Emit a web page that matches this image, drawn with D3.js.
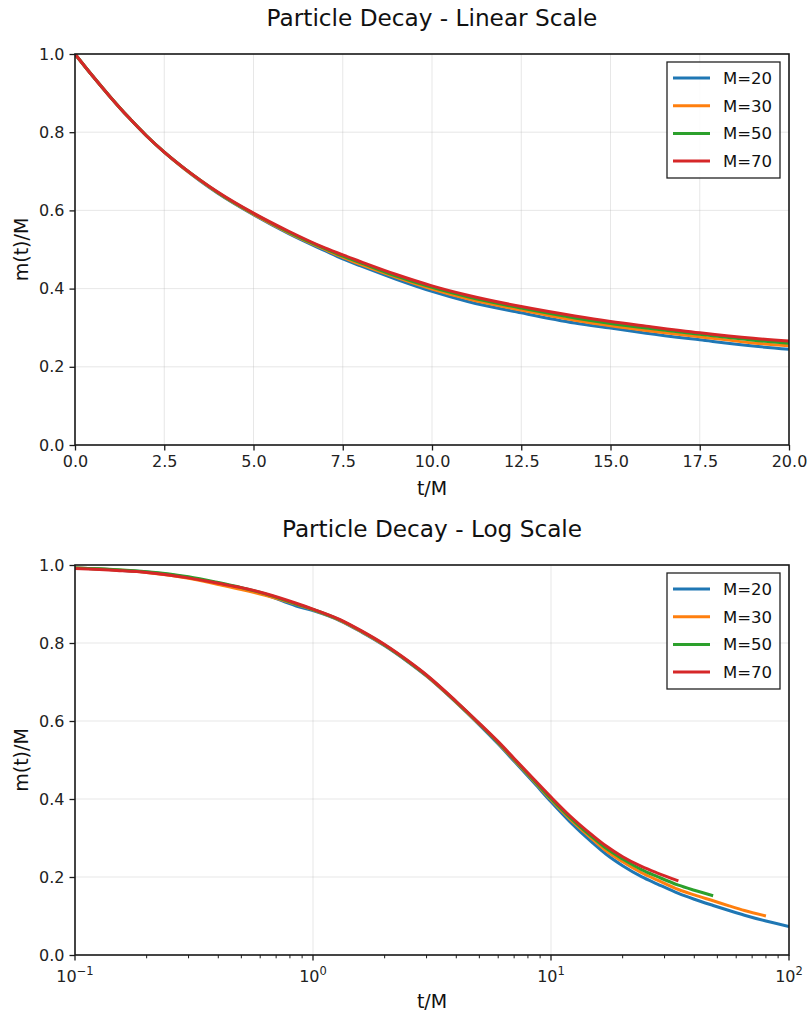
<!DOCTYPE html>
<html>
<head>
<meta charset="utf-8">
<script src="https://cdn.jsdelivr.net/npm/d3@7"></script>
<style>
  html, body { margin: 0; padding: 0; background: #fff; }
  svg { display: block; font-family: "DejaVu Sans", sans-serif; }
</style>
</head>
<body>
<svg id="chart" width="808" height="1012"></svg>
<script>
// ---------------- DATA ----------------
const seriesNames = ["M=20", "M=30", "M=50", "M=70"];
const seriesColors = ["#1f77b4", "#ff7f0e", "#2ca02c", "#d62728"];

// Linear-scale panel
const linT = [0, 0.5, 1, 1.5, 2, 2.5, 3, 3.5, 4, 5, 6, 7, 7.5, 8, 9, 10, 11, 12.5, 14, 15, 16, 17.5, 19, 20];
const linM20 = [1.000, 0.943, 0.889, 0.838, 0.791, 0.749, 0.711, 0.676, 0.644, 0.589, 0.540, 0.497, 0.476, 0.458, 0.424, 0.393, 0.367, 0.338, 0.312, 0.299, 0.286, 0.269, 0.253, 0.245];
const linM30 = [1.000, 0.943, 0.889, 0.838, 0.791, 0.749, 0.711, 0.677, 0.645, 0.590, 0.542, 0.500, 0.480, 0.462, 0.429, 0.399, 0.374, 0.345, 0.319, 0.305, 0.293, 0.277, 0.261, 0.254];
const linM50 = [1.000, 0.943, 0.889, 0.838, 0.791, 0.749, 0.712, 0.678, 0.646, 0.592, 0.544, 0.502, 0.483, 0.466, 0.432, 0.403, 0.379, 0.350, 0.325, 0.311, 0.299, 0.283, 0.268, 0.260];
const linM70 = [1.000, 0.943, 0.889, 0.838, 0.791, 0.749, 0.712, 0.678, 0.647, 0.593, 0.546, 0.504, 0.486, 0.469, 0.436, 0.407, 0.383, 0.354, 0.330, 0.316, 0.304, 0.287, 0.273, 0.266];

// Log-scale panel (each series uses the leading part of logT)
const logT = [0.1, 0.15, 0.2, 0.3, 0.4, 0.5, 0.63, 0.85, 1, 1.3, 1.6, 2, 2.5, 3, 4, 5, 6, 7, 8.5, 10, 12, 15, 17, 20, 24, 28, 34.3, 40, 48, 56, 65, 80, 100];
const logM20 = [0.992, 0.987, 0.982, 0.968, 0.953, 0.941, 0.924, 0.895, 0.883, 0.857, 0.828, 0.793, 0.752, 0.715, 0.647, 0.590, 0.541, 0.497, 0.441, 0.393, 0.342, 0.287, 0.259, 0.229, 0.201, 0.182, 0.158, 0.143, 0.127, 0.114, 0.102, 0.087, 0.073];
const logM30 = [0.992, 0.987, 0.981, 0.966, 0.950, 0.937, 0.922, 0.899, 0.885, 0.858, 0.829, 0.794, 0.753, 0.716, 0.648, 0.592, 0.544, 0.500, 0.445, 0.398, 0.349, 0.296, 0.268, 0.239, 0.211, 0.192, 0.168, 0.154, 0.139, 0.126, 0.114, 0.100];
const logM50 = [0.992, 0.988, 0.983, 0.970, 0.955, 0.942, 0.926, 0.900, 0.886, 0.859, 0.830, 0.795, 0.754, 0.717, 0.649, 0.593, 0.545, 0.502, 0.447, 0.401, 0.353, 0.301, 0.274, 0.246, 0.219, 0.201, 0.179, 0.166, 0.152];
const logM70 = [0.991, 0.986, 0.981, 0.967, 0.953, 0.942, 0.927, 0.902, 0.887, 0.860, 0.831, 0.796, 0.755, 0.718, 0.650, 0.594, 0.547, 0.504, 0.450, 0.405, 0.357, 0.306, 0.280, 0.252, 0.227, 0.210, 0.190];

const linXTicks = [0, 2.5, 5, 7.5, 10, 12.5, 15, 17.5, 20];
const yTicks = [0, 0.2, 0.4, 0.6, 0.8, 1.0];
const logMajorTicks = [0.1, 1, 10, 100];
const logTickExp = ["\u22121", "0", "1", "2"];

const titles = ["Particle Decay - Linear Scale", "Particle Decay - Log Scale"];
const xLabel = "t/M";
const yLabel = "m(t)/M";

// ---------------- DRAW ----------------
const svg = d3.select("#chart");
const L = 75, R = 789;
const panels = [
  { top: 54, bottom: 445, type: "lin" },
  { top: 565, bottom: 955, type: "log" }
];
const linSeries = [linM20, linM30, linM50, linM70];
const logSeries = [logM20, logM30, logM50, logM70];
const spine = "#1a1a1a";

panels.forEach((p, pi) => {
  const g = svg.append("g");
  const y = d3.scaleLinear().domain([0, 1]).range([p.bottom, p.top]);
  let x;
  if (p.type === "lin") x = d3.scaleLinear().domain([0, 20]).range([L, R]);
  else x = d3.scaleLog().domain([0.1, 100]).range([L, R]);

  // clip
  const clipId = "clip" + pi;
  svg.append("clipPath").attr("id", clipId).append("rect")
    .attr("x", L).attr("y", p.top).attr("width", R - L).attr("height", p.bottom - p.top);

  // grid
  const gridX = p.type === "lin" ? linXTicks : logMajorTicks;
  g.selectAll(".gx").data(gridX).enter().append("line")
    .attr("x1", d => x(d)).attr("x2", d => x(d))
    .attr("y1", p.top).attr("y2", p.bottom)
    .attr("stroke", "#b0b0b0").attr("stroke-opacity", 0.3).attr("stroke-width", 1);
  g.selectAll(".gy").data(yTicks).enter().append("line")
    .attr("x1", L).attr("x2", R)
    .attr("y1", d => y(d)).attr("y2", d => y(d))
    .attr("stroke", "#b0b0b0").attr("stroke-opacity", 0.3).attr("stroke-width", 1);

  // lines
  const line = d3.line().x(d => x(d[0])).y(d => y(d[1])).curve(d3.curveMonotoneX);
  const lg = g.append("g").attr("clip-path", `url(#${clipId})`);
  const vals = p.type === "lin" ? linSeries : logSeries;
  const ts = p.type === "lin" ? linT : logT;
  vals.forEach((arr, i) => {
    const pts = arr.map((v, k) => [ts[k], v]);
    lg.append("path").datum(pts).attr("d", line)
      .attr("fill", "none").attr("stroke", seriesColors[i])
      .attr("stroke-width", 3).attr("stroke-linejoin", "round").attr("stroke-linecap", "butt");
  });

  // y axis
  const yAxis = d3.axisLeft(y).tickValues(yTicks).tickFormat(d3.format(".1f")).tickSizeOuter(0).tickSize(5.5).tickPadding(5);
  const ya = g.append("g").attr("transform", `translate(${L},0)`).call(yAxis);
  ya.select(".domain").remove();
  ya.selectAll("line").attr("stroke", spine).attr("stroke-width", 1.3);
  ya.selectAll("text").attr("font-size", 16).attr("fill", "#222").attr("font-family", "DejaVu Sans");

  // x axis
  if (p.type === "lin") {
    const xAxis = d3.axisBottom(x).tickValues(linXTicks).tickFormat(d3.format(".1f")).tickSizeOuter(0).tickSize(5.5).tickPadding(5);
    const xa = g.append("g").attr("transform", `translate(0,${p.bottom})`).call(xAxis);
    xa.select(".domain").remove();
    xa.selectAll("line").attr("stroke", spine).attr("stroke-width", 1.3);
    xa.selectAll("text").attr("font-size", 16).attr("fill", "#222").attr("font-family", "DejaVu Sans");
  } else {
    const minor = [];
    [0.1, 1, 10].forEach(dec => { for (let k = 2; k <= 9; k++) minor.push(dec * k); });
    const xa = g.append("g").attr("transform", `translate(0,${p.bottom})`);
    xa.selectAll(".mn").data(minor).enter().append("line")
      .attr("x1", d => x(d)).attr("x2", d => x(d)).attr("y1", 0).attr("y2", 3.3)
      .attr("stroke", spine).attr("stroke-width", 1);
    xa.selectAll(".mj").data(logMajorTicks).enter().append("line")
      .attr("x1", d => x(d)).attr("x2", d => x(d)).attr("y1", 0).attr("y2", 5.5)
      .attr("stroke", spine).attr("stroke-width", 1.3);
    const lbl = xa.selectAll(".lb").data(logMajorTicks).enter().append("text")
      .attr("x", d => x(d)).attr("y", 27)
      .attr("text-anchor", "middle").attr("font-size", 16).attr("fill", "#222");
    lbl.append("tspan").text("10");
    lbl.append("tspan").attr("dy", -7).attr("font-size", 11.5).text((d, i) => logTickExp[i]);
  }

  // spines
  g.append("rect").attr("x", L).attr("y", p.top).attr("width", R - L).attr("height", p.bottom - p.top)
    .attr("fill", "none").attr("stroke", spine).attr("stroke-width", 1.6);

  // labels
  g.append("text").attr("x", (L + R) / 2).attr("y", p.top - 28)
    .attr("text-anchor", "middle").attr("font-size", 23.2).attr("fill", "#111").text(titles[pi]);
  g.append("text").attr("x", (L + R) / 2).attr("y", p.bottom + (pi === 0 ? 50 : 53))
    .attr("text-anchor", "middle").attr("font-size", 19).attr("fill", "#111").text(xLabel);
  g.append("text").attr("transform", `translate(28,${(p.top + p.bottom) / 2}) rotate(-90)`)
    .attr("text-anchor", "middle").attr("font-size", 19).attr("fill", "#111").text(yLabel);

  // legend
  const lx = 667, ly = p.top + 8, lw = 113, lh = 116;
  const leg = g.append("g");
  leg.append("rect").attr("x", lx).attr("y", ly).attr("width", lw).attr("height", lh)
    .attr("fill", "#fff").attr("fill-opacity", 0.85).attr("stroke", "#222").attr("stroke-width", 1.3);
  seriesNames.forEach((nm, i) => {
    const yy = ly + 16 + i * 27.7;
    leg.append("line").attr("x1", lx + 6).attr("x2", lx + 43).attr("y1", yy).attr("y2", yy)
      .attr("stroke", seriesColors[i]).attr("stroke-width", 3);
    leg.append("text").attr("x", lx + 56).attr("y", yy + 6)
      .attr("font-size", 16.5).attr("fill", "#111").text(nm);
  });
});
</script>
</body>
</html>
